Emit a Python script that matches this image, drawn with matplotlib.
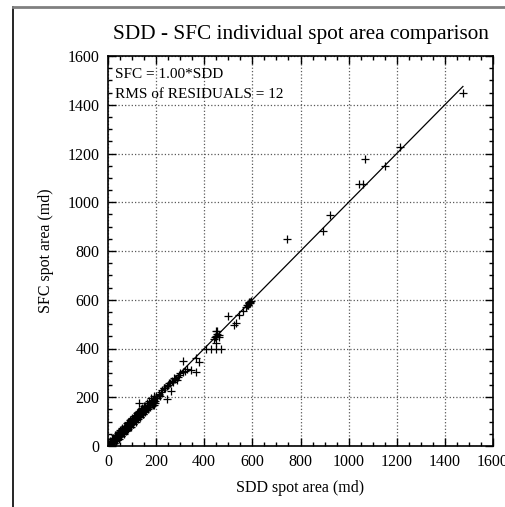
import numpy as np
import matplotlib.pyplot as plt
from matplotlib.lines import Line2D
from matplotlib.ticker import MultipleLocator

plt.rcParams.update({
    'font.family': 'Liberation Serif', 'font.size': 11.5,
    'xtick.direction': 'in', 'ytick.direction': 'in',
})

# puntos (SDD, SFC) en md
sdd = [2, 3, 4, 5, 6, 7, 8, 9, 10, 11, 12, 13, 14, 15, 16, 17, 18, 19, 20, 21,
       22, 23, 24, 25, 26, 27, 28, 29, 30, 31, 32, 33, 34, 35, 36, 37, 38, 39, 40, 41,
       42, 43, 44, 45, 46, 47, 48, 49, 50, 51, 52, 53, 54, 55, 56, 57, 58, 59, 60, 61,
       62, 63, 64, 65, 66, 67, 68, 69, 70, 71, 72, 73, 74, 75, 76, 77, 78, 79, 80, 82,
       83, 85, 86, 88, 89, 90, 92, 94, 95, 97, 98, 100, 102, 104, 106, 108, 110, 112, 114, 116,
       118, 120, 122, 125, 127, 130, 133, 135, 138, 140, 142, 145, 148, 150, 152, 155, 158, 160, 163, 166,
       170, 172, 175, 178, 182, 185, 188, 192, 195, 200, 205, 210, 215, 220, 226, 232, 238, 245, 250, 256,
       # band spread
       10, 15, 20, 25, 30, 35, 40, 45, 50, 55, 60, 65, 70, 75, 80, 85, 90, 95, 100, 105,
       110, 115, 120, 125, 130, 135, 140, 145, 150, 155, 160, 165, 170, 175, 180, 185, 190, 195, 12, 18,
       24, 32, 38, 44, 52, 58, 64, 72, 78, 84, 92, 98, 104, 112, 118, 124, 132, 138, 144, 152,
       129, 118, 143, 183, 192, 204, 212, 233, 247, 261, 254, 265, 270, 280, 287, 275, 295, 300, 310, 290,
       312, 321, 330, 345, 365, 365, 379, 407, 428, 449, 470, 449, 450, 455, 460, 462, 455, 449, 440, 445,
       497, 525, 532, 546, 560, 575, 580, 585, 588, 590, 592, 595, 583, 587, 578,
       743, 893, 921, 1045, 1060, 1067, 1151, 1215, 1475]
sfc = [1, 4, 2, 6, 3, 8, 5, 10, 7, 12, 9, 15, 11, 13, 18, 14, 20, 16, 22, 18,
       25, 20, 27, 22, 24, 30, 26, 32, 27, 34, 29, 36, 31, 38, 33, 40, 35, 44, 37, 46,
       39, 42, 48, 41, 50, 44, 52, 46, 54, 48, 57, 50, 56, 52, 60, 54, 62, 56, 58, 64,
       59, 67, 61, 69, 63, 66, 72, 65, 74, 68, 76, 70, 78, 72, 80, 74, 82, 76, 78, 88,
       80, 90, 83, 92, 86, 94, 88, 98, 92, 102, 95, 104, 98, 108, 102, 112, 106, 116, 110, 120,
       114, 125, 117, 128, 122, 135, 128, 140, 132, 145, 137, 150, 142, 155, 147, 160, 150, 165, 156, 170,
       162, 175, 168, 180, 172, 190, 180, 195, 186, 205, 198, 214, 207, 222, 228, 236, 240, 246, 252, 258,
       22, 5, 33, 12, 44, 22, 55, 30, 65, 40, 74, 50, 84, 60, 94, 70, 105, 80, 115, 90,
       124, 100, 134, 110, 145, 120, 154, 130, 165, 140, 176, 150, 185, 160, 196, 168, 205, 178, 2, 30,
       12, 44, 26, 56, 40, 70, 52, 84, 66, 98, 80, 112, 92, 124, 106, 138, 120, 150, 132, 164,
       178, 127, 134, 182, 168, 197, 209, 237, 193, 226, 260, 268, 262, 275, 270, 279, 292, 298, 305, 285,
       350, 308, 315, 312, 305, 360, 346, 397, 397, 397, 397, 422, 450, 460, 455, 448, 470, 470, 438, 446,
       535, 497, 504, 538, 555, 570, 580, 590, 585, 592, 588, 595, 578, 586, 580,
       849, 884, 946, 1076, 1076, 1178, 1149, 1225, 1450]

rms = 12

fig = plt.figure(figsize=(5.05, 5.07), dpi=100)
ax = fig.add_axes([108/505, 1 - 446/507, 385/505, 390/507])

ax.plot(sdd, sfc, '+', color='black', markersize=6, markeredgewidth=0.9, zorder=3)
xx = np.array([0, max(sdd)])
ax.plot(xx, 1.00 * xx, color='black', linewidth=0.9, zorder=2)

ax.set_xlim(0, 1600)
ax.set_ylim(0, 1600)
ax.xaxis.set_major_locator(MultipleLocator(200))
ax.yaxis.set_major_locator(MultipleLocator(200))
ax.xaxis.set_minor_locator(MultipleLocator(50))
ax.yaxis.set_minor_locator(MultipleLocator(50))
ax.tick_params(which='both', top=True, right=True, width=1)
ax.tick_params(which='major', length=6, pad=6)
ax.tick_params(which='minor', length=3)
ax.grid(True, which='major', linestyle=':', color='0.35', linewidth=0.9)
for s in ax.spines.values():
    s.set_linewidth(1.2)

ax.set_xlabel('SDD spot area (md)', labelpad=7)
ax.set_ylabel('SFC spot area (md)', labelpad=10)
ax.set_title('SDD - SFC individual spot area comparison', fontsize=15.3, pad=12)

ax.text(0.018, 0.968, 'SFC = 1.00*SDD', transform=ax.transAxes, fontsize=11,
        va='top', ha='left')
ax.text(0.018, 0.918, f'RMS of RESIDUALS = {rms}', transform=ax.transAxes, fontsize=11,
        va='top', ha='left')

# marco de la pagina
fig.add_artist(Line2D([13/505, 13/505], [0, 1 - 7/507], color='black', linewidth=1.2))
fig.add_artist(Line2D([13/505, 1], [1 - 7/507, 1 - 7/507], color='0.5', linewidth=2))

plt.savefig('out.png', dpi=100, facecolor='white')
